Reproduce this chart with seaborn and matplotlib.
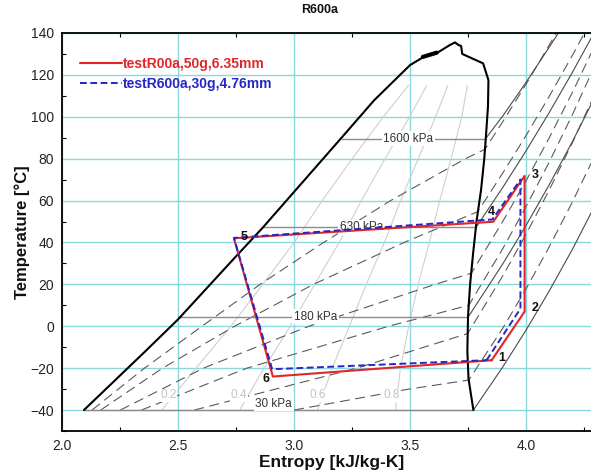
import matplotlib
matplotlib.use('Agg')
import matplotlib.pyplot as plt
import seaborn as sns
from matplotlib.lines import Line2D
from matplotlib.ticker import MultipleLocator, FormatStrFormatter

# ---------------- data ----------------
# saturation dome (s in kJ/kg-K, T in C)
dome_s = [2.093, 2.36, 2.500, 2.745, 2.862, 3.030, 3.205, 3.345, 3.500, 3.565, 3.618, 3.672, 3.694,
          3.708, 3.720, 3.725, 3.815, 3.838, 3.836, 3.828, 3.820, 3.806, 3.787, 3.772, 3.759, 3.750,
          3.747, 3.752, 3.773]
dome_T = [-40, -11.7, 3.4, 32.9, 46.8, 68.0, 90.1, 107.9, 124.7, 129.0, 130.6, 134.3, 135.5,
          134.3, 133.8, 130.0, 125.5, 117.5, 105.0, 92.0, 80.0, 65.0, 50.5, 35.0, 20.2, 5.0,
          -11.7, -25.0, -40]

# cycle, points 1..6 then back to 1
red_s = [3.852, 3.994, 3.994, 3.859, 2.740, 2.908, 3.852]
red_T = [-16.2, 7.0, 71.8, 49.9, 42.0, -24.0, -16.2]
blue_s = [3.830, 3.976, 3.976, 3.855, 2.740, 2.905, 3.830]
blue_T = [-16.2, 8.4, 70.0, 51.0, 42.2, -20.5, -16.2]
pt_names = ['1', '2', '3', '4', '5', '6']
pt_s = [3.895, 4.039, 4.039, 3.852, 2.783, 2.879]
pt_T = [-15.2, 8.7, 72.2, 54.6, 42.5, -25.3]

legend_labels = ['testR00a,50g,6.35mm', 'testR600a,30g,4.76mm']

# isobars (two-phase part + superheated part)
p30_s = [2.093, 3.773, 3.9, 4.0, 4.1, 4.2, 4.3]
p30_T = [-40, -40, -19.4, -1.9, 16.8, 36.7, 58.2]
p180_s = [2.50, 3.751, 3.9, 4.0, 4.1, 4.2, 4.3]
p180_T = [4.5, 4.5, 29.8, 48.1, 67.5, 88.1, 110.1]
p630_s = [2.865, 3.785, 3.9, 4.0, 4.1, 4.2, 4.3]
p630_T = [47.3, 47.3, 66.3, 83.7, 102.0, 121.2, 141.4]
p1600_s = [3.205, 3.826, 3.9, 4.0, 4.1, 4.15]
p1600_T = [89.6, 89.6, 100.4, 116.4, 133.2, 141.8]
isobar_names = ['30 kPa', '180 kPa', '630 kPa', '1600 kPa']
isobar_lab_s = [2.912, 3.092, 3.289, 3.493]
isobar_lab_T = [-37.0, 4.5, 47.3, 89.6]

# isochores (dashed)
v1_s = [2.128, 2.354, 2.602, 2.853, 3.127, 3.416, 3.739, 3.823, 3.9, 4.0, 4.1, 4.15]
v1_T = [-40, -20, 0, 20, 40, 60, 80, 84.5, 97.7, 115.5, 134.2, 143.9]
v2_s = [2.165, 2.432, 2.743, 3.083, 3.474, 3.792, 3.9, 4.0, 4.1, 4.2, 4.27]
v2_T = [-40, -20, 0, 20, 40, 54.7, 73.2, 91.0, 109.7, 129.3, 143.6]
v3_s = [2.250, 2.608, 3.063, 3.608, 3.764, 3.9, 4.0, 4.1, 4.2, 4.3]
v3_T = [-40, -20, 0, 20, 25.3, 50.1, 69.4, 89.9, 111.6, 134.7]
v4_s = [2.341, 2.796, 3.407, 3.753, 3.9, 4.0, 4.1, 4.2, 4.3]
v4_T = [-40, -20, 0, 10, 37.1, 57.1, 78.3, 101.0, 125.2]
v5_s = [2.569, 3.270, 3.748, 3.9, 4.0, 4.1, 4.2, 4.3]
v5_T = [-40, -20, -3.5, 24.1, 43.9, 65.0, 87.6, 111.6]
v6_s = [2.999, 3.494, 3.753, 3.9, 4.0, 4.1, 4.2, 4.3]
v6_T = [-40, -30, -25.7, -0.9, 17.8, 37.9, 59.3, 82.2]

# constant-quality lines
q_T = [-40, -20, 0, 20, 40, 60, 80, 100, 115]
q02_s = [2.429, 2.576, 2.727, 2.864, 3.000, 3.121, 3.250, 3.385, 3.493]
q04_s = [2.765, 2.870, 2.983, 3.088, 3.194, 3.290, 3.392, 3.498, 3.572]
q06_s = [3.101, 3.164, 3.238, 3.311, 3.389, 3.459, 3.535, 3.610, 3.663]
q08_s = [3.437, 3.458, 3.494, 3.535, 3.583, 3.628, 3.677, 3.723, 3.747]
q_names = ['0.2', '0.4', '0.6', '0.8']
q_lab_s = [2.457, 2.760, 3.100, 3.420]
q_lab_T = [-33.0, -33.0, -33.0, -33.0]

x_ticks = [2.0, 2.5, 3.0, 3.5, 4.0]
y_ticks = [-40, -20, 0, 20, 40, 60, 80, 100, 120, 140]

# ---------------- style ----------------
sns.set_theme(style='ticks')
plt.rcParams['font.family'] = ['Liberation Sans', 'DejaVu Sans']

RED = '#e0262b'
BLUE = '#2525c8'
GRID = '#8ad8de'

fig = plt.figure(figsize=(5.91, 4.72), dpi=100)
L, B, T_ = 62.4, 431.0, 33.0
ax = fig.add_axes([L / 591, (472 - B) / 472, (591 - L) / 591, (B - T_) / 472])


def draw(s, t, color, lw, ls='-', z=2):
    sns.lineplot(x=s, y=t, sort=False, estimator=None, color=color, lw=lw,
                 linestyle=ls, ax=ax, zorder=z, legend=False)


# quality lines
for qs in (q02_s, q04_s, q06_s, q08_s):
    draw(qs, q_T, '#cfcfcf', 0.8, z=1.5)

# isochores
for vs, vt in ((v1_s, v1_T), (v2_s, v2_T), (v3_s, v3_T), (v4_s, v4_T), (v5_s, v5_T), (v6_s, v6_T)):
    draw(vs, vt, '#5a5a5a', 0.8, ls=(0, (9, 5)), z=1.8)

# isobars
for ps, pt in ((p30_s, p30_T), (p180_s, p180_T), (p630_s, p630_T), (p1600_s, p1600_T)):
    draw(ps[:2], pt[:2], '#8c8c8c', 1.0, z=1.9)
    draw(ps[1:], pt[1:], '#4a4a4a', 0.8, z=1.9)

# dome
draw(dome_s, dome_T, 'black', 1.5, z=3)
draw([3.555, 3.615], [128.6, 130.6], 'black', 3.0, z=3)

# labels on lines
for name, xs, ys in zip(isobar_names, isobar_lab_s, isobar_lab_T):
    ax.text(xs, ys, name, ha='center', va='center', fontsize=8.5, color='#333333', zorder=2.5,
            bbox=dict(fc='white', ec='none', pad=1.0))
for name, xs, ys in zip(q_names, q_lab_s, q_lab_T):
    ax.text(xs, ys, name, ha='center', va='center', fontsize=8.5, color='#c4c4c4', zorder=2.5,
            bbox=dict(fc='white', ec='none', pad=0.5))

# cycle
draw(red_s, red_T, RED, 1.5, z=4)
draw(blue_s, blue_T, BLUE, 1.4, ls=(0, (3.5, 1.8)), z=5)
for name, xs, ys in zip(pt_names, pt_s, pt_T):
    ax.text(xs, ys, name, ha='center', va='center', fontsize=9, fontweight='bold', color='#111111', zorder=6)

# axes
ax.set_xlim(2.0, 2.0 + (591 - L) / 231.8)
ax.set_ylim(-50, 140)
ax.set_xticks(x_ticks)
ax.set_yticks(y_ticks)
ax.xaxis.set_major_formatter(FormatStrFormatter('%.1f'))
ax.xaxis.set_minor_locator(MultipleLocator(0.25))
ax.yaxis.set_minor_locator(MultipleLocator(10))
ax.grid(True, which='major', color=GRID, lw=1.0)
ax.set_axisbelow(True)
ax.tick_params(which='both', direction='in', top=True, right=False, colors='black',
               labelsize=10, labelcolor='#222222')
ax.tick_params(which='major', length=0, pad=6)
ax.tick_params(which='minor', length=3, width=0.8)
for side in ('left', 'bottom', 'top'):
    ax.spines[side].set_color('black')
    ax.spines[side].set_linewidth(1.3)
ax.spines['right'].set_visible(False)
ax.set_xlabel('')
ax.set_ylabel('')

fig.text(332 / 591, 1 - 462 / 472, 'Entropy [kJ/kg-K]', ha='center', va='center',
         fontsize=12.5, fontweight='bold', color='#111111')
fig.text(22 / 591, 1 - 232 / 472, 'Temperature [°C]', ha='center', va='center', rotation=90,
         fontsize=12, fontweight='bold', color='#111111')
fig.text(320 / 591, 1 - 10 / 472, 'R600a', ha='center', va='center', fontsize=9,
         fontweight='bold', color='#111111')

handles = [Line2D([], [], color=RED, lw=1.5),
           Line2D([], [], color=BLUE, lw=1.4, linestyle=(0, (3.5, 1.8)))]
ax.legend(handles, legend_labels, loc='upper left',
          bbox_to_anchor=((80 - L) / (591 - L), 1 - (57 - T_) / (B - T_)),
          frameon=False, borderpad=0, borderaxespad=0, handlelength=3.0,
          handletextpad=0.1, labelspacing=0.45, labelcolor=[RED, BLUE],
          prop={'weight': 'bold', 'size': 10})

fig.savefig('out.png', dpi=100)
